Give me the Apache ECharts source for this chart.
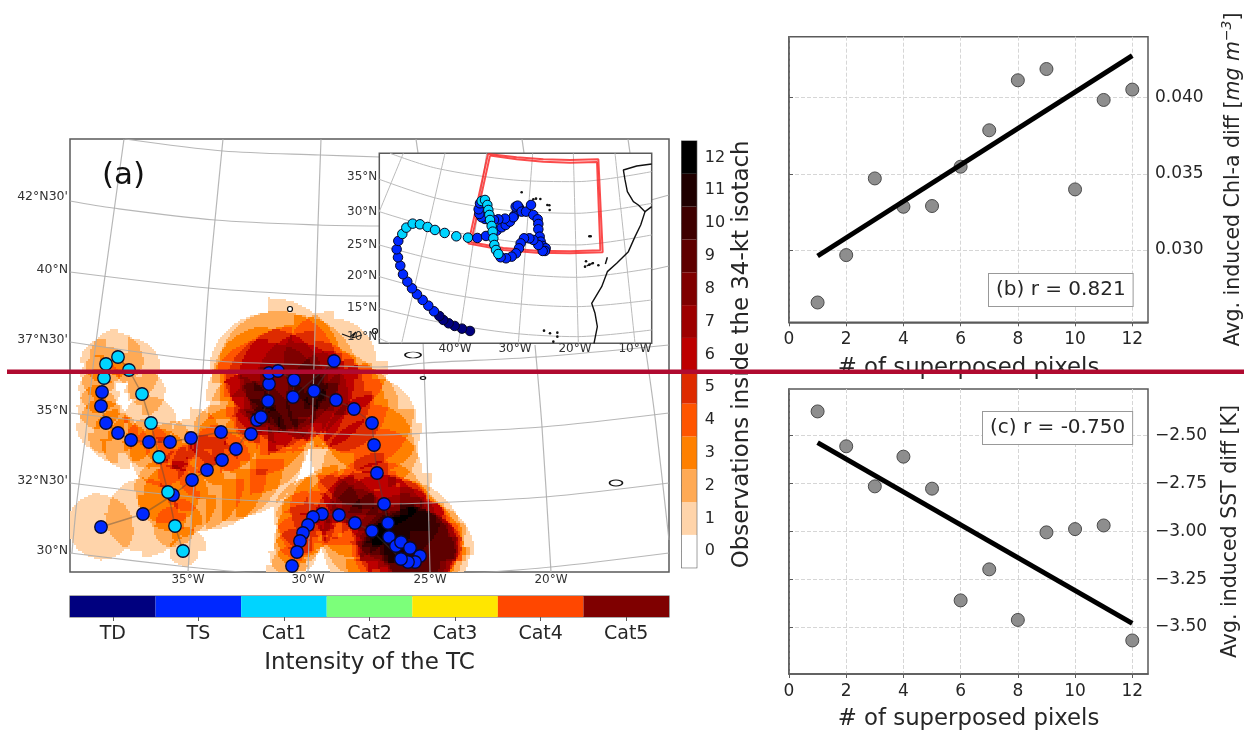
<!DOCTYPE html>
<html><head><meta charset="utf-8">
<style>html,body{margin:0;padding:0;background:#fff}#c{width:1244px;height:732px}</style>
<script src="https://cdn.jsdelivr.net/npm/echarts@6/dist/echarts.min.js"></script>
</head><body><div id="c"></div>
<script>
// ---------- scatter panels ----------
const pixelCounts = [1,2,3,4,5,6,7,8,9,10,11,12];
const chlDiff = [0.02656,0.02967,0.03470,0.03284,0.03289,0.03547,0.03786,0.04114,0.04188,0.03398,0.03985,0.04053];
const chlFit = [[1,0.02961],[12,0.04276]];
const sstDiff = [-2.375,-2.557,-2.766,-2.611,-2.778,-3.361,-3.199,-3.463,-3.006,-2.989,-2.970,-3.570];
const sstFit = [[1,-2.538],[12,-3.481]];
const pixelTicks = [0,2,4,6,8,10,12];
const chlTicks = [0.030,0.035,0.040];
const sstTicks = [-3.5,-3.25,-3.0,-2.75,-2.5];
// ---------- colour bars ----------
const obsLevels = ['0','1','2','3','4','5','6','7','8','9','10','11','12'];
const obsColors = ['#ffffff','#ffd4aa','#ffaa55','#ff8000','#ff5500','#de2b00','#bd0000','#9d0000','#7f0000','#5e0000','#3e0000','#1f0000','#000000'];
const tcClasses = ['TD','TS','Cat1','Cat2','Cat3','Cat4','Cat5'];
const tcColors = ['#00007f','#0028ff','#00d4ff','#7cff7a','#ffe600','#ff4700','#7f0000'];
// ---------- main map: track passes in map units [x, y, class, NE, SE, SW, NW radii] ----------
const passEast = [
[101,527,1,32,33,32,34],[143,514,1,36,43,38,35],[173,495,1,35,44,36,30],[192,480,1,32,52,32,35],
[207,470,1,34,60,30,35],[222,460,1,28,62,26,36],[236,449,1,40,68,24,42],[257,420,1,35,55,24,50],
[261,417,1,50,38,26,36],[268,401,1,58,50,35,62],[269,384,1,55,70,40,58],[269,373,1,75,60,45,60],
[278,371,1,60,62,40,60],[294,380,1,65,60,50,55],[293,397,1,55,55,50,70],[334,361,1,42,55,50,50],
[314,391,1,50,58,50,60],[336,400,1,48,52,50,50],[354,409,1,45,60,45,50],[372,423,1,45,50,50,60],
[374,445,1,40,45,65,50],[377,473,1,45,55,60,55],[384,504,1,42,60,42,52],[388,523,1,48,78,38,62],
[389,537,1,60,70,68,48],[396,546,1,60,62,38,75],[401,542,1,62,55,50,32],[410,548,1,52,60,30,55],
[420,556,1,55,42,32,50],[415,562,1,52,36,48,60],[408,562,1,55,32,30,48],[401,559,1,55,45,55,42],
[372,531,1,58,38,50,60],[355,523,1,34,34,35,55],[339,515,1,40,18,24,50],[322,514,1,40,18,30,40],
[313,517,1,26,20,36,40],[308,525,1,22,26,30,34],[303,533,1,20,24,28,28],[300,541,1,18,22,26,26],
[297,552,1,18,20,28,24],[292,566,1,15,15,26,20]];
const passWest = [
[261,417,1,10,10,10,10],[251,434,1,35,60,28,26],[221,432,1,60,40,34,28],[191,438,1,30,36,34,20],
[170,442,1,22,28,26,20],[149,442,1,18,26,26,24],[131,440,1,16,22,30,24],[118,433,1,20,20,30,24],
[106,423,1,22,18,30,26],[101,406,1,16,20,24,22],[102,392,1,14,18,22,24],[104,378,2,16,14,22,24],
[106,364,2,18,20,20,26],[118,357,2,24,26,18,28],[129,370,2,32,30,14,18],[142,394,2,24,22,12,18],
[151,423,2,26,22,24,28],[159,457,2,28,30,28,30],[168,492,2,28,32,32,34],[175,526,2,28,20,22,20],
[183,551,2,24,16,14,14]];
// ---------- inset track in inset-map units [x, y, class] ----------
const insetTrack = [
[300,573,0],[276,566,0],[254,558,0],[236,550,0],[220,540,0],[208,528,0],
[192,514,1],[175,497,1],[158,480,1],[141,463,1],[126,445,1],[112,425,1],[99,403,1],[91,377,1],[84,352,1],[80,328,1],[85,303,1],
[97,282,2],[109,263,2],[128,251,2],[150,253,2],[173,261,2],[195,270,2],[224,279,2],[259,289,2],[294,293,2],
[322,294,1],[348,288,1],[380,272,1],[395,262,1],[407,255,1],[420,245,1],[432,228,1],[442,212,1],[447,203,1],[437,200,1],[443,197,1],
[455,215,1],[468,215,1],[483,195,1],[490,225,1],[503,238,1],[505,252,1],[505,268,1],[509,290,1],[512,305,1],[518,318,1],[527,325,1],[525,333,1],[518,333,1],
[505,315,1],[490,300,1],[478,295,1],[462,295,1],[452,310,1],[447,325,1],[438,340,1],[425,350,1],[408,355,1],[392,352,1],
[430,232,1],[405,236,1],[385,238,1],[372,240,1],[358,240,1],[345,237,1],[335,232,1],[328,222,1],[326,208,1],[330,190,1],
[335,183,2],[345,180,2],[352,195,2],[355,210,2],[358,225,2],[360,240,2],[365,258,2],[368,275,2],[370,295,2],[373,315,2],[378,330,2],[385,342,2]];
// ---------- graticules & coasts ----------
const mainMeridians = [
[[124,139],[110,240],[95,350],[85,440],[77,500],[72,553]],
[[223,139],[215,220],[208,295],[203,370],[193,497],[188,572]],
[[321,139],[318,225],[315,330],[312,433],[308,572]],
[[416,139],[419,160]],[[423,340],[427,453],[430,572]],
[[522,139],[525,160]],[[535,345],[542,427],[551,572]],
[[628,139],[631,160]],[[645,345],[655,417],[669,540]]];
const mainParallels = [
[[125,139],[223,151],[320,155],[380,157]],
[[70,201],[113,208],[215,220],[318,225],[380,226]],[[651,200],[669,195]],
[[70,272],[208,288],[317,295],[380,296]],[[651,270],[669,266]],
[[70,342],[203,360],[313,365],[380,367],[425,363],[537,357],[669,345]],
[[70,413],[203,427],[312,433],[380,435],[427,433],[542,427],[669,413]],
[[70,483],[193,497],[310,503],[380,504],[428,503],[545,497],[669,483]],
[[70,553],[188,567],[273,575]],[[447,575],[551,567],[669,553]]];
const insetMeridians = [
[[735,40],[795,610]],[[610,40],[625,610]],[[488,40],[445,610]],[[350,40],[265,610]],[[225,40],[95,610]],[[100,40],[28,215]]];
const insetParallels = [
[[60,40],[200,85],[430,120],[620,125],[845,95]],
[[28,118],[200,175],[400,210],[620,220],[845,190]],
[[28,215],[200,265],[430,305],[620,315],[845,285]],
[[28,315],[200,360],[430,400],[620,412],[845,385]],
[[28,410],[200,455],[430,490],[620,500],[845,480]],
[[28,505],[200,545],[430,580],[620,590],[845,570]],
[[28,595],[60,610]]];
const redBoxes = [
[[354,42],[440,52],[520,58],[600,60],[685,58],[698,337],[600,340],[500,338],[400,330],[295,311],[354,42]],
[[360,47],[440,58],[520,65],[600,68],[681,66],[691,331],[600,334],[500,332],[400,324],[303,307],[360,47]]];
const insetCoasts = [
[[845,72],[800,78],[760,90],[765,120],[772,155],[790,185],[805,195],[825,215],[845,200]],
[[825,215],[812,255],[795,290],[775,335],[740,370],[712,395],[695,440],[665,490],[675,520],[682,560],[672,610]],
[[712,352],[706,372]],[[650,378],[672,368]]];
const insetIslands = [[455,157],[490,178],[498,176],[511,177],[532,195],[538,196],[539,210],[658,289],[662,289],
[648,364],[658,374],[668,370],[685,376],[645,380],[522,572],[540,580],[562,578],[562,590],[550,605]];
const mainIslands = [[290,309,5,5],[413,355,16,6],[423,378,5,3],[616,483,13,6],[375,331,5,5]];
const mainCoast = [[342,334],[350,337],[356,332],[352,338],[362,335]];
// ---------- axis labels ----------
const mainLonTicks = [188,308,430,551], mainLonLabels = ['35°W','30°W','25°W','20°W'];
const mainLatTicks = [197,270,340,411,481,551], mainLatLabels = ["42°N30'","40°N","37°N30'","35°N","32°N30'","30°N"];
const insetLonTicks = [255,435,615,795], insetLonLabels = ['40°W','30°W','20°W','10°W'];
const insetLatTicks = [110,215,315,408,505,592], insetLatLabels = ['35°N','30°N','25°N','20°N','15°N','10°N'];

const FONT = 'DejaVu Sans', INK = '#262626', EDGE = '#5a5a5a';

// Count how many observation wedges cover each map cell (same idea as the source figure).
function buildField(passes, x0, x1, y0, y1, cell) {
  const rows = [];
  for (let y = y0; y < y1; y += cell) {
    let start = null, cur = 0;
    for (let x = x0; x <= x1; x += cell) {
      let n = 0;
      if (x < x1) {
        const cx = x + cell / 2, cy = y + cell / 2;
        for (const p of passes) {
          const dx = cx - p[0], dy = cy - p[1];
          const r = dx >= 0 ? (dy < 0 ? p[3] : p[4]) : (dy >= 0 ? p[5] : p[6]);
          if (dx * dx + dy * dy <= r * r) n++;
        }
        n = Math.min(n, 12);
      }
      if (n !== cur) {
        if (cur > 0) rows.push([start, x, y, Math.min(y + cell, y1), cur]);
        start = x; cur = n;
      }
    }
  }
  return rows;
}
const fieldCells = buildField(passEast.concat(passWest), 70, 669, 139, 572, 2);

function lineSet(lines, g, opts) {
  return lines.map(l => Object.assign({
    type: 'line', xAxisIndex: g, yAxisIndex: g, data: l, showSymbol: false, symbol: 'none', silent: true
  }, opts));
}
const axisBase = (g, extra) => Object.assign({ gridIndex: g, type: 'value', axisLabel: { show: false }, axisLine: { show: false }, axisTick: { show: false }, splitLine: { show: false } }, extra);

function scatterXAxis(g) {
  return { gridIndex: g, type: 'value', min: 0, max: 12.55,
    name: '# of superposed pixels', nameLocation: 'middle', nameGap: 34,
    nameTextStyle: { fontFamily: FONT, fontSize: 22.8, color: INK },
    axisLine: { lineStyle: { color: EDGE, width: 1.5 } },
    axisTick: { show: true, length: 4, customValues: pixelTicks, lineStyle: { color: EDGE } },
    axisLabel: { customValues: pixelTicks, fontFamily: FONT, fontSize: 17, color: INK, margin: 9, formatter: v => String(v) },
    splitLine: { show: true, lineStyle: { color: '#d6d6d6', type: 'dashed', width: 1 } } };
}
function scatterYAxis(g, min, max, ticks, fmt, name, rich, gap) {
  return { gridIndex: g, type: 'value', position: 'right', min, max,
    name, nameLocation: 'middle', nameRotate: 90, nameGap: gap,
    nameTextStyle: { fontFamily: FONT, fontSize: 20.5, color: INK, rich },
    axisLine: { show: true, lineStyle: { color: EDGE, width: 1.5 } },
    axisTick: { show: true, length: 4, customValues: ticks, lineStyle: { color: EDGE } },
    axisLabel: { customValues: ticks, fontFamily: FONT, fontSize: 17, color: INK, margin: 7, formatter: fmt },
    splitLine: { show: true, lineStyle: { color: '#d6d6d6', type: 'dashed', width: 1 } } };
}
function scatterSeries(g, values, fit) {
  return [
    { type: 'scatter', xAxisIndex: g, yAxisIndex: g, data: pixelCounts.map((x, i) => [x, values[i]]), symbolSize: 13, z: 3, silent: true,
      itemStyle: { color: '#888888', borderColor: '#444444', borderWidth: 1, opacity: 0.95 } },
    { type: 'line', xAxisIndex: g, yAxisIndex: g, data: fit, showSymbol: false, symbol: 'none', z: 4, silent: true,
      lineStyle: { color: '#000', width: 5, cap: 'butt' } }
  ];
}
const nameRichChl = {
  a: { fontFamily: FONT, fontSize: 20.5, color: INK },
  i: { fontFamily: FONT, fontSize: 20.5, color: INK, fontStyle: 'italic' },
  s: { fontFamily: FONT, fontSize: 14, color: INK, fontStyle: 'italic', verticalAlign: 'top', lineHeight: 28 }
};
const tcMark = d => tcColors[d.value[2]];

const option = {
  animation: false,
  backgroundColor: '#fff',
  grid: [
    { left: 70, top: 139, width: 599, height: 433, show: true, backgroundColor: '#fff', borderColor: EDGE, borderWidth: 1.5, z: 0, outerBoundsMode: 'none' },
    { left: 379.3, top: 153.3, width: 272.4, height: 190, show: true, backgroundColor: '#fff', borderColor: EDGE, borderWidth: 1.5, z: 10, outerBoundsMode: 'none' },
    { left: 789, top: 36.7, width: 359, height: 285.6, show: true, borderColor: EDGE, borderWidth: 1.5, outerBoundsMode: 'none' },
    { left: 789, top: 389, width: 359, height: 285, show: true, borderColor: EDGE, borderWidth: 1.5, outerBoundsMode: 'none' },
    { left: 681.7, top: 141, width: 15, height: 426.7, show: true, borderColor: EDGE, borderWidth: 1.2, outerBoundsMode: 'none' },
    { left: 70, top: 596, width: 599, height: 21, show: true, borderColor: EDGE, borderWidth: 1.2, outerBoundsMode: 'none' }
  ],
  xAxis: [
    axisBase(0, { min: 70, max: 669, z: 6,
      axisLabel: { show: true, customValues: mainLonTicks, fontFamily: FONT, fontSize: 12, color: '#333', margin: 2, formatter: v => mainLonLabels[mainLonTicks.indexOf(v)] } }),
    axisBase(1, { min: 28, max: 845, z: 15,
      axisLabel: { show: true, customValues: insetLonTicks, fontFamily: FONT, fontSize: 12, color: '#333', margin: 0, formatter: v => insetLonLabels[insetLonTicks.indexOf(v)] } }),
    scatterXAxis(2), scatterXAxis(3),
    axisBase(4, { min: 0, max: 1 }),
    { gridIndex: 5, type: 'category', data: tcClasses, boundaryGap: true,
      name: 'Intensity of the TC', nameLocation: 'middle', nameGap: 35,
      nameTextStyle: { fontFamily: FONT, fontSize: 23, color: INK },
      axisLine: { show: false }, axisTick: { show: true, alignWithLabel: true, length: 4, lineStyle: { color: EDGE } },
      axisLabel: { fontFamily: FONT, fontSize: 19, color: INK, margin: 8, interval: 0 } }
  ],
  yAxis: [
    axisBase(0, { min: 139, max: 572, inverse: true, z: 6,
      axisLabel: { show: true, customValues: mainLatTicks, fontFamily: FONT, fontSize: 12.5, color: '#333', margin: 2, formatter: v => mainLatLabels[mainLatTicks.indexOf(v)] } }),
    axisBase(1, { min: 40, max: 610, inverse: true, z: 15,
      axisLabel: { show: true, customValues: insetLatTicks, fontFamily: FONT, fontSize: 12, color: '#333', margin: 2, formatter: v => insetLatLabels[insetLatTicks.indexOf(v)] } }),
    scatterYAxis(2, 0.02526, 0.0440, chlTicks, v => v.toFixed(3),
      '{a|Avg. induced Chl-a diff [}{i|mg m}{s|−3}{a|]}', nameRichChl, 72),
    scatterYAxis(3, -3.745, -2.258, sstTicks, v => v.toFixed(2).replace('-', '−'),
      'Avg. induced SST diff [K]', undefined, 72),
    { gridIndex: 4, type: 'category', data: obsLevels, position: 'right', boundaryGap: true,
      name: 'Observations inside the 34-kt isotach', nameLocation: 'middle', nameRotate: 90, nameGap: 34,
      nameTextStyle: { fontFamily: FONT, fontSize: 22.9, color: INK },
      axisLine: { show: false }, axisTick: { show: true, alignWithLabel: true, length: 4, lineStyle: { color: EDGE } },
      axisLabel: { fontFamily: FONT, fontSize: 16, color: INK, margin: 8, interval: 0 } },
    axisBase(5, { min: 0, max: 1 })
  ],
  series: [
    // observation count field
    { type: 'custom', xAxisIndex: 0, yAxisIndex: 0, z: 1, silent: true, clip: true, data: fieldCells, progressive: 0,
      renderItem: (params, api) => {
        const a = api.coord([api.value(0), api.value(2)]), b = api.coord([api.value(1), api.value(3)]);
        return { type: 'rect', shape: { x: a[0], y: a[1], width: b[0] - a[0], height: b[1] - a[1] },
          style: { fill: obsColors[api.value(4)] } };
      }, encode: { x: 0, y: 2 } },
    ...lineSet(mainMeridians.concat(mainParallels), 0, { z: 2, smooth: 0.3, lineStyle: { color: 'rgba(170,170,170,0.85)', width: 1.2 } }),
    { type: 'line', xAxisIndex: 0, yAxisIndex: 0, data: mainCoast, showSymbol: false, symbol: 'none', z: 3, silent: true, lineStyle: { color: '#111', width: 1.2 } },
    { type: 'scatter', xAxisIndex: 0, yAxisIndex: 0, z: 3, silent: true,
      data: mainIslands.map(d => ({ value: [d[0], d[1]], symbolSize: [d[2], d[3]] })),
      itemStyle: { color: '#fff', borderColor: '#111', borderWidth: 1.2, opacity: 1 } },
    ...lineSet([passEast.map(p => p.slice(0, 2)), passWest.map(p => p.slice(0, 2))], 0, { z: 4, lineStyle: { color: 'rgba(70,70,70,0.4)', width: 1.5 } }),
    { type: 'scatter', xAxisIndex: 0, yAxisIndex: 0, z: 5, silent: true, symbolSize: 12.5,
      data: passEast.concat(passWest).map(p => ({ value: [p[0], p[1], p[2]] })),
      itemStyle: { color: tcMark, borderColor: '#0a0a2a', borderWidth: 1.3, opacity: 1 } },
    // inset
    ...lineSet(insetMeridians.concat(insetParallels), 1, { z: 11, smooth: 0.3, lineStyle: { color: '#bbbbbb', width: 1 } }),
    ...lineSet(insetCoasts, 1, { z: 12, lineStyle: { color: '#111', width: 1.4 } }),
    { type: 'scatter', xAxisIndex: 1, yAxisIndex: 1, z: 12, silent: true, symbolSize: 2.6, data: insetIslands, itemStyle: { color: '#111', opacity: 1 } },
    ...lineSet(redBoxes, 1, { z: 13, lineStyle: { color: 'rgba(250,30,30,0.8)', width: 2 } }),
    { type: 'scatter', xAxisIndex: 1, yAxisIndex: 1, z: 14, silent: true, symbolSize: 9.5,
      data: insetTrack.map(p => ({ value: p })),
      itemStyle: { color: tcMark, borderColor: '#050520', borderWidth: 1, opacity: 1 } },
    // scatter panels
    ...scatterSeries(2, chlDiff, chlFit),
    ...scatterSeries(3, sstDiff, sstFit),
    // colour bars
    { type: 'bar', xAxisIndex: 4, yAxisIndex: 4, barWidth: '100%', silent: true,
      data: obsLevels.map((_, i) => ({ value: 1, itemStyle: { color: obsColors[i] } })) },
    { type: 'bar', xAxisIndex: 5, yAxisIndex: 5, barWidth: '100%', silent: true,
      data: tcClasses.map((_, i) => ({ value: 1, itemStyle: { color: tcColors[i] } })) }
  ],
  graphic: [
    { type: 'text', left: 102, top: 160, z: 20, style: { text: '(a)', font: '31px "DejaVu Sans"', fill: '#111' } },
    { type: 'text', left: 988, top: 273, z: 20, style: { text: '(b) r = 0.821', font: '20px "DejaVu Sans"', fill: INK,
        backgroundColor: '#fff', borderColor: '#999', borderWidth: 1, padding: [6, 7, 6, 7] } },
    { type: 'text', left: 982, top: 411, z: 20, style: { text: '(c) r = -0.750', font: '20px "DejaVu Sans"', fill: INK,
        backgroundColor: '#fff', borderColor: '#999', borderWidth: 1, padding: [6, 7, 6, 7] } },
    { type: 'rect', z: 50, shape: { x: 7, y: 369.5, width: 1237, height: 4.5 }, style: { fill: '#b00a30' } }
  ]
};
const chart = echarts.init(document.getElementById('c'), null, { renderer: 'canvas' });
chart.setOption(option);
</script></body></html>
